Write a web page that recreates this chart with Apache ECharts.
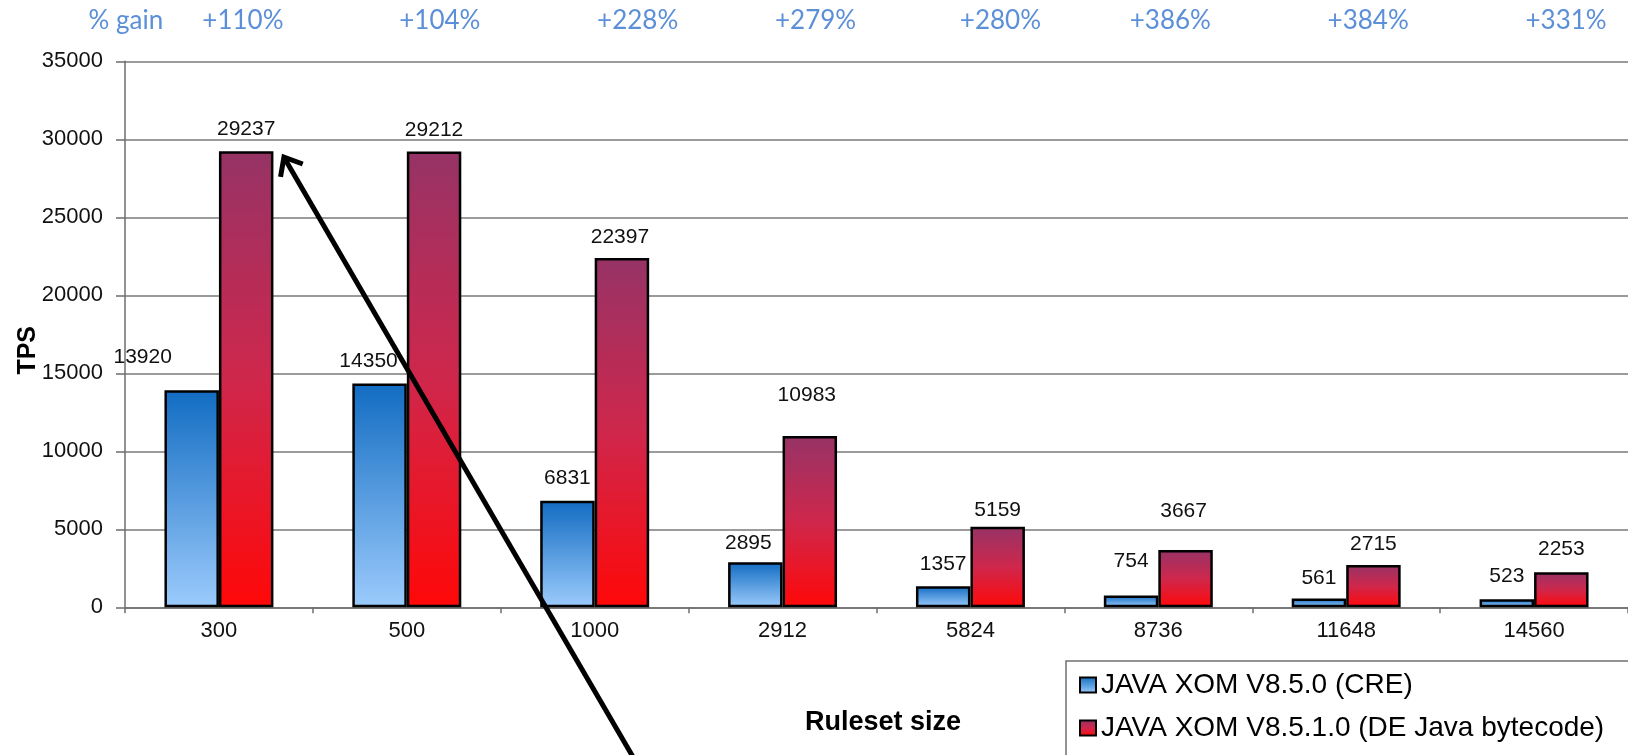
<!DOCTYPE html>
<html>
<head>
<meta charset="utf-8">
<script src="https://cdn.jsdelivr.net/npm/echarts@6/dist/echarts.min.js"></script>
<style>
html,body{margin:0;padding:0;background:#fff;}
#c{width:1628px;height:755px;}
</style>
</head>
<body>
<div id="c"></div>
<script>
// ---- data ----
const categories = ['300','500','1000','2912','5824','8736','11648','14560'];
const creValues = [13920, 14350, 6831, 2895, 1357, 754, 561, 523];
const deValues  = [29237, 29212, 22397, 10983, 5159, 3667, 2715, 2253];
const gainLabels = ['+110%','+104%','+228%','+279%','+280%','+386%','+384%','+331%'];
const seriesNames = ['JAVA XOM V8.5.0 (CRE)', 'JAVA XOM V8.5.1.0 (DE Java bytecode)'];
const yTicks = {min: 0, max: 35000, interval: 5000};

// ---- label placement (pixels) ----
const creLabelOffX = [-49, -11, 0, -7, 0, 0, 0, 0];
const creLabelOffY = [-17, -7, -7, -3, -6, -19, -5, -7];
const deLabelOffX  = [0, 0, -2, -3, 0, -2, 0, 0];
const deLabelOffY  = [-6, -6, -5, -25, -1, -23, -5, -7];
const gainOffX = [24, 33, 43, 33, 30, 12, 22, 32];

const FONT = '"Liberation Sans", Arial, sans-serif';
const chart = echarts.init(document.getElementById('c'), null, {renderer: 'canvas'});

const blueGrad = new echarts.graphic.LinearGradient(0, 0, 0, 1, [
  {offset: 0, color: '#126cc2'},
  {offset: 1, color: '#9ccbfc'}
]);
const redGrad = new echarts.graphic.LinearGradient(0, 0, 0, 1, [
  {offset: 0, color: '#963366'},
  {offset: 0.5, color: '#cf274c'},
  {offset: 1, color: '#ff0808'}
]);

const labelBase = {show: true, position: 'top', color: '#111', fontFamily: FONT, fontSize: 21};

const option = {
  backgroundColor: '#fff',
  animation: false,
  grid: {left: 125, right: 0, top: 61.3, bottom: 147.7, containLabel: false, outerBoundsMode: 'none'},
  legend: {
    orient: 'vertical',
    left: 1066, top: 661,
    itemWidth: 16, itemHeight: 15, itemGap: 15,
    padding: [10, 5, 0, 13],
    icon: 'rect',
    textStyle: {fontFamily: FONT, fontSize: 28, color: '#000'},
    data: seriesNames
  },
  xAxis: {
    type: 'category',
    data: categories,
    name: 'Ruleset size',
    nameLocation: 'middle',
    nameGap: 102,
    nameMoveOverlap: false,
    nameTextStyle: {fontFamily: FONT, fontSize: 27, fontWeight: 'bold', color: '#000', padding: [0, 0, 0, 13]},
    axisLine: {lineStyle: {color: '#6e6e6e', width: 1.5}},
    axisTick: {show: true, length: 6, lineStyle: {color: '#6e6e6e', width: 1.5}},
    axisLabel: {fontFamily: FONT, fontSize: 22, color: '#111', margin: 13}
  },
  yAxis: {
    type: 'value',
    min: yTicks.min, max: yTicks.max, interval: yTicks.interval,
    name: 'TPS',
    nameLocation: 'middle',
    nameRotate: 90,
    nameGap: 84,
    nameMoveOverlap: false,
    nameTextStyle: {fontFamily: FONT, fontSize: 25, fontWeight: 'bold', color: '#000', padding: [0, 32, 0, 0]},
    axisLine: {show: true, lineStyle: {color: '#6e6e6e', width: 1.5}},
    axisTick: {show: true, length: 9, lineStyle: {color: '#6e6e6e', width: 1.5}},
    axisLabel: {fontFamily: FONT, fontSize: 22, color: '#111', margin: 22, formatter: v => String(v)},
    splitLine: {lineStyle: {color: '#7a7a7a', width: 1.5}}
  },
  series: [
    {
      name: seriesNames[0], type: 'bar',
      barWidth: '29%', barGap: '0%',
      itemStyle: {color: blueGrad, borderColor: '#000', borderWidth: 2.5},
      label: labelBase,
      data: creValues.map((v, i) => ({value: v, label: {offset: [creLabelOffX[i], creLabelOffY[i]]}}))
    },
    {
      name: seriesNames[1], type: 'bar',
      barWidth: '29%', barGap: '0%',
      itemStyle: {color: redGrad, borderColor: '#000', borderWidth: 2.5},
      label: labelBase,
      data: deValues.map((v, i) => ({value: v, label: {offset: [deLabelOffX[i], deLabelOffY[i]]}}))
    }
  ]
};
chart.setOption(option);

// annotations placed from axis coordinates
const graphics = [];
// legend frame (runs off the right and bottom edges like the reference)
graphics.push({
  type: 'rect', z: -1,
  shape: {x: 1066, y: 661, width: 700, height: 200},
  style: {fill: '#fff', stroke: '#707070', lineWidth: 1.5}
});
const gainStyle = {fontFamily: 'Lato, "Open Sans", sans-serif', fontSize: 26, fill: '#5b8fd8'};
gainLabels.forEach((g, i) => {
  const p = chart.convertToPixel({xAxisIndex: 0, yAxisIndex: 0}, [i, yTicks.max]);
  graphics.push({
    type: 'text', x: p[0] + gainOffX[i], y: 21,
    style: Object.assign({text: g, align: 'center', verticalAlign: 'middle'}, gainStyle)
  });
});
const p0 = chart.convertToPixel({xAxisIndex: 0, yAxisIndex: 0}, [0, yTicks.max]);
graphics.push({
  type: 'text', x: p0[0] - 93, y: 21,
  style: Object.assign({text: '% gain', align: 'center', verticalAlign: 'middle'}, gainStyle)
});
// arrow pointing to the top of the first DE bar
const tipBase = chart.convertToPixel({xAxisIndex: 0, yAxisIndex: 0}, [0, deValues[0]]);
const tip = [tipBase[0] + 65, tipBase[1] + 6];
const ang = Math.atan2(1, 0.582);
const L = 800, arm = 20, spread = 40 * Math.PI / 180;
graphics.push({
  type: 'line', z: 100,
  shape: {x1: tip[0], y1: tip[1], x2: tip[0] + L * Math.cos(ang), y2: tip[1] + L * Math.sin(ang)},
  style: {stroke: '#000', lineWidth: 5}
});
graphics.push({
  type: 'polyline', z: 100,
  shape: {points: [
    [tip[0] + arm * Math.cos(ang + spread), tip[1] + arm * Math.sin(ang + spread)],
    tip,
    [tip[0] + arm * Math.cos(ang - spread), tip[1] + arm * Math.sin(ang - spread)]
  ]},
  style: {stroke: '#000', lineWidth: 5, fill: null, lineJoin: 'miter'}
});
chart.setOption({graphic: graphics});
</script>
</body>
</html>
